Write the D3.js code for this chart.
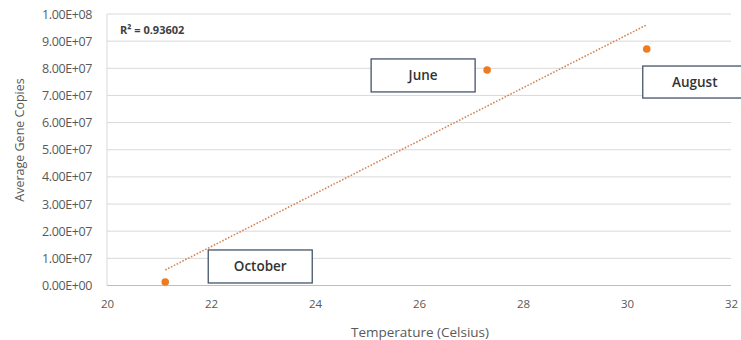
<!DOCTYPE html>
<html>
<head>
<meta charset="utf-8">
<script src="https://cdn.jsdelivr.net/npm/d3@7"></script>
<style>
  html, body { margin: 0; padding: 0; background: #fff; }
  svg { display: block; font-family: "Open Sans", Lato, sans-serif; }
</style>
</head>
<body>
<svg id="chart" width="741" height="340"></svg>
<script>
// Sampling months, mean water temperature and average gene copies
const months = ["October", "June", "August"];
const temperature = [21.12, 27.31, 30.38];
const geneCopies = [1.3e6, 7.94e7, 8.71e7];
const xTicks = [20, 22, 24, 26, 28, 30, 32];
const yTicks = [0, 1e7, 2e7, 3e7, 4e7, 5e7, 6e7, 7e7, 8e7, 9e7, 1e8];
const r2Label = "R² = 0.93602";
// Label box offsets (px) relative to each point: left, top of box
const labelBoxes = [
  { dx: 43, dy: -32, w: 104, h: 33 },
  { dx: -116, dy: -11, w: 104, h: 33 },
  { dx: -4, dy: 17, w: 104, h: 32 }
];

const svg = d3.select("#chart");
const m = { left: 107, right: 731, top: 14, bottom: 285.5 };

const x = d3.scaleLinear().domain([20, 32]).range([m.left, m.right]);
const y = d3.scaleLinear().domain([0, 1e8]).range([m.bottom, m.top]);

function sci(v) {
  if (v === 0) return "0.00E+00";
  const e = Math.floor(Math.log10(v));
  const mant = v / Math.pow(10, e);
  return mant.toFixed(2) + "E+" + String(e).padStart(2, "0");
}

// Horizontal gridlines
svg.append("g")
  .selectAll("line")
  .data(yTicks)
  .join("line")
  .attr("x1", m.left).attr("x2", m.right)
  .attr("y1", d => y(d)).attr("y2", d => y(d))
  .attr("stroke", d => d === 0 ? "#bfbfbf" : "#d9d9d9")
  .attr("stroke-width", 1);

// Vertical axis line
svg.append("line")
  .attr("x1", m.left).attr("x2", m.left)
  .attr("y1", m.top).attr("y2", m.bottom)
  .attr("stroke", "#d9d9d9");

// Y axis
const yAxis = svg.append("g")
  .attr("transform", `translate(${m.left},0)`)
  .call(d3.axisLeft(y).tickValues(yTicks).tickFormat(sci).tickSize(0).tickPadding(15));
yAxis.select(".domain").remove();
yAxis.selectAll("text").attr("fill", "#595959").style("font-size", "12.5px")
  .style("font-family", "'Open Sans', sans-serif").style("letter-spacing", "-0.4px");

// X axis
const xAxis = svg.append("g")
  .attr("transform", `translate(0,${m.bottom})`)
  .call(d3.axisBottom(x).tickValues(xTicks).tickFormat(d3.format("d")).tickSize(0).tickPadding(14));
xAxis.select(".domain").remove();
xAxis.selectAll("text").attr("fill", "#595959").style("font-size", "11.5px")
  .style("font-family", "'Open Sans', sans-serif");

// Axis titles
svg.append("text")
  .attr("x", 420).attr("y", 337)
  .attr("text-anchor", "middle")
  .attr("fill", "#595959")
  .style("font-size", "13.5px")
  .text("Temperature (Celsius)");

svg.append("text")
  .attr("transform", `translate(24,140) rotate(-90)`)
  .attr("text-anchor", "middle")
  .attr("fill", "#595959")
  .style("font-size", "12.5px")
  .text("Average Gene Copies");

// Linear trendline by least squares
const n = temperature.length;
const mx = d3.mean(temperature), my = d3.mean(geneCopies);
let sxy = 0, sxx = 0;
for (let i = 0; i < n; i++) {
  sxy += (temperature[i] - mx) * (geneCopies[i] - my);
  sxx += (temperature[i] - mx) ** 2;
}
const slope = sxy / sxx, intercept = my - slope * mx;
const [tx0, tx1] = d3.extent(temperature);
svg.append("line")
  .attr("x1", x(tx0)).attr("y1", y(slope * tx0 + intercept))
  .attr("x2", x(tx1)).attr("y2", y(slope * tx1 + intercept))
  .attr("stroke", "#d2885a")
  .attr("stroke-width", 1.6)
  .attr("stroke-dasharray", "1.6,1.6");

// R² label
svg.append("text")
  .attr("x", 120).attr("y", 34)
  .attr("fill", "#404040")
  .style("font-size", "11px")
  .style("font-weight", "bold")
  .text(r2Label);

// Points
svg.append("g")
  .selectAll("circle")
  .data(temperature)
  .join("circle")
  .attr("cx", d => x(d))
  .attr("cy", (d, i) => y(geneCopies[i]))
  .attr("r", 3.8)
  .attr("fill", "#f07b1e");

// Month label boxes
const labels = svg.append("g")
  .selectAll("g")
  .data(months)
  .join("g")
  .attr("transform", (d, i) => `translate(${x(temperature[i]) + labelBoxes[i].dx},${y(geneCopies[i]) + labelBoxes[i].dy})`);
labels.append("rect")
  .attr("width", (d, i) => labelBoxes[i].w)
  .attr("height", (d, i) => labelBoxes[i].h)
  .attr("fill", "#fff")
  .attr("stroke", "#44546a")
  .attr("stroke-width", 1.3);
labels.append("text")
  .attr("x", (d, i) => labelBoxes[i].w / 2)
  .attr("y", (d, i) => labelBoxes[i].h / 2 + 5)
  .attr("text-anchor", "middle")
  .attr("fill", "#333")
  .style("font-size", "13.5px")
  .style("font-weight", "600")
  .text(d => d);
</script>
</body>
</html>
